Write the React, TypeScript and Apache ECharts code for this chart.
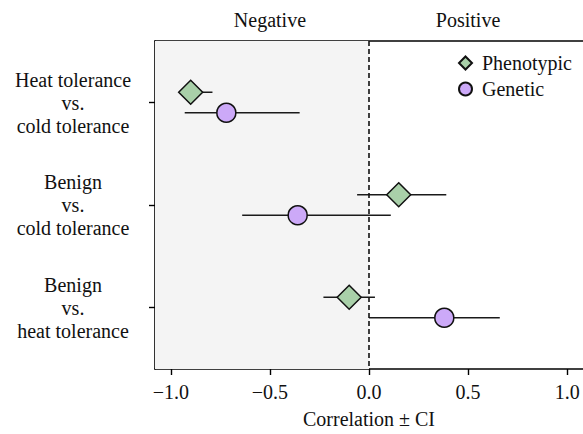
import React, { useEffect, useRef } from "react";
import * as echarts from "echarts";

const categories = [
  "Heat tolerance\nvs.\ncold tolerance",
  "Benign\nvs.\ncold tolerance",
  "Benign\nvs.\nheat tolerance",
];
const phenoValue = [-0.9, 0.15, -0.1];
const phenoLow = [-0.95, -0.06, -0.23];
const phenoHigh = [-0.79, 0.39, 0.03];
const geneValue = [-0.72, -0.36, 0.38];
const geneLow = [-0.93, -0.64, 0.0];
const geneHigh = [-0.35, 0.11, 0.66];
const xTicks = [-1.0, -0.5, 0.0, 0.5, 1.0];
const sideLabels = ["Negative", "Positive"];
const sidePositions = [-0.5, 0.5];

const FONT = "Times New Roman, Liberation Serif, DejaVu Serif, serif";
const OFFSET = 0.1;

export default function App() {
  const ref = useRef<HTMLDivElement>(null);
  useEffect(() => {
    if (!ref.current) return;
    const chart = echarts.init(ref.current, null, { renderer: "svg" });
    const phenoPts = phenoValue.map((v, i) => [v, i - OFFSET]);
    const genePts = geneValue.map((v, i) => [v, i + OFFSET]);
    const phenoBars = phenoValue.map((_, i) => [phenoLow[i], phenoHigh[i], i - OFFSET]);
    const geneBars = geneValue.map((_, i) => [geneLow[i], geneHigh[i], i + OFFSET]);
    const renderBar = (params: any, api: any) => {
      const lo = api.value(0);
      const hi = api.value(1);
      const y = api.value(2);
      const p1 = api.coord([lo, y]);
      const p2 = api.coord([hi, y]);
      return {
        type: "line",
        shape: { x1: p1[0], y1: p1[1], x2: p2[0], y2: p2[1] },
        style: { stroke: "#1a1a1a", lineWidth: 1.6 },
      };
    };
    const fmt = (v: number) => {
      const s = Math.abs(v).toFixed(1);
      return v < -1e-9 ? "\u2212" + s : s;
    };
    chart.setOption({
      animation: false,
      textStyle: { fontFamily: FONT },
      grid: { left: 155, top: 41, right: -3, bottom: 59.5 },
      legend: {
        orient: "vertical",
        left: 453,
        top: 48,
        itemWidth: 13,
        itemHeight: 13,
        itemGap: 6,
        textStyle: { fontFamily: FONT, fontSize: 20, color: "#111", padding: [0, 0, 0, 5] },
        data: [
          { name: "Phenotypic", icon: "diamond" },
          { name: "Genetic", icon: "circle" },
        ],
      },
      xAxis: [
        {
          type: "value",
          position: "bottom",
          min: -1.08,
          max: 1.08,
          splitLine: { show: false },
          axisLine: { show: true, onZero: false, lineStyle: { color: "#000", width: 1.6 } },
          axisTick: {
            show: true,
            length: 6,
            customValues: xTicks,
            lineStyle: { color: "#000", width: 1.4 },
          },
          axisLabel: {
            customValues: xTicks,
            formatter: fmt,
            fontFamily: FONT,
            fontSize: 20,
            color: "#111",
            margin: 13,
          },
          name: "Correlation \u00b1 CI",
          nameLocation: "middle",
          nameGap: 40,
          nameTextStyle: { fontFamily: FONT, fontSize: 20, color: "#111" },
        },
        {
          type: "value",
          position: "top",
          min: -1.08,
          max: 1.08,
          splitLine: { show: false },
          axisLine: { show: true, onZero: false, lineStyle: { color: "#000", width: 1.6 } },
          axisTick: { show: false },
          axisLabel: {
            customValues: sidePositions,
            formatter: (v: number) => (v < 0 ? sideLabels[0] : sideLabels[1]),
            fontFamily: FONT,
            fontSize: 20,
            color: "#111",
            margin: 11,
          },
        },
      ],
      yAxis: {
        type: "value",
        inverse: true,
        min: -0.6,
        max: 2.6,
        splitLine: { show: false },
        axisLine: { show: true, onZero: false, lineStyle: { color: "#000", width: 1.6 } },
        axisTick: {
          show: true,
          length: 6,
          customValues: [0, 1, 2],
          lineStyle: { color: "#000", width: 1.4 },
        },
        axisLabel: {
          customValues: [0, 1, 2],
          formatter: (v: number) => categories[Math.round(v)],
          fontFamily: FONT,
          fontSize: 20,
          lineHeight: 23,
          color: "#111",
          align: "center",
          margin: 82,
        },
      },
      series: [
        {
          type: "custom",
          name: "bgshade",
          xAxisIndex: 0,
          data: [],
          renderItem: () => null,
          silent: true,
          markArea: {
            silent: true,
            itemStyle: { color: "#f4f4f4" },
            data: [[{ xAxis: -1.08 }, { xAxis: 0 }]],
          },
          markLine: {
            silent: true,
            symbol: "none",
            label: { show: false },
            lineStyle: { color: "#111", type: [5, 3], width: 1.6 },
            data: [{ xAxis: 0 }],
          },
          z: 1,
        },
        {
          type: "custom",
          name: "phenoCI",
          renderItem: renderBar,
          encode: { x: [0, 1], y: 2 },
          data: phenoBars,
          silent: true,
          z: 3,
        },
        {
          type: "custom",
          name: "geneCI",
          renderItem: renderBar,
          encode: { x: [0, 1], y: 2 },
          data: geneBars,
          silent: true,
          z: 3,
        },
        {
          type: "scatter",
          name: "Phenotypic",
          symbol: "diamond",
          symbolSize: 24,
          itemStyle: { color: "#a9d0a9", borderColor: "#111", borderWidth: 1.5, opacity: 1 },
          data: phenoPts,
          z: 5,
        },
        {
          type: "scatter",
          name: "Genetic",
          symbol: "circle",
          symbolSize: 19,
          itemStyle: { color: "#cca9f8", borderColor: "#111", borderWidth: 1.5, opacity: 1 },
          data: genePts,
          z: 5,
        },
      ],
    });
    return () => chart.dispose();
  }, []);
  return (
    <div
      ref={ref}
      style={{ position: "fixed", left: 0, top: 0, width: 583, height: 434, background: "#fff" }}
    />
  );
}
